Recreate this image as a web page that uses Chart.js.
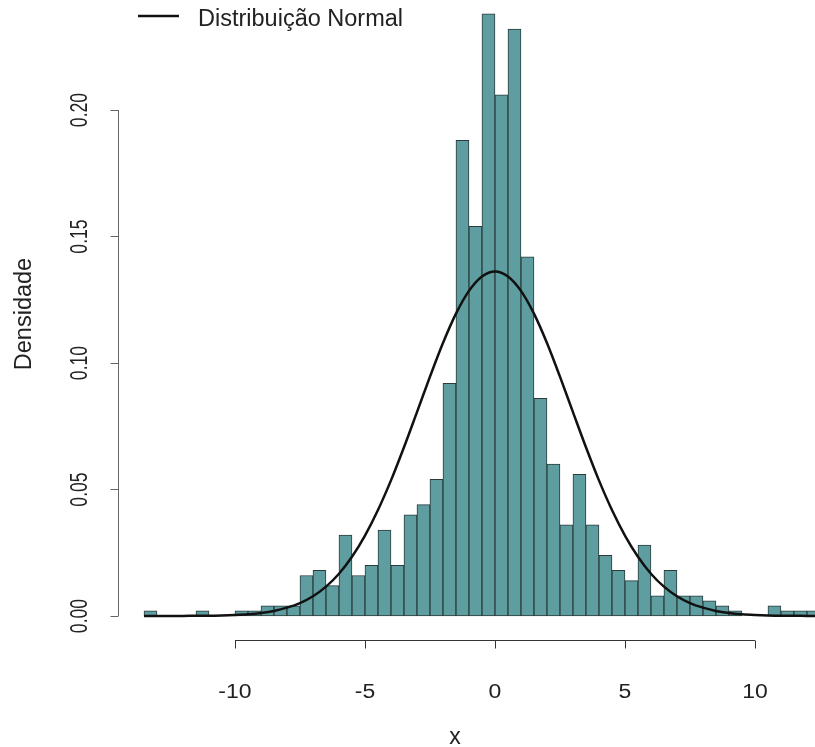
<!DOCTYPE html>
<html>
<head>
<meta charset="utf-8">
<script src="https://cdn.jsdelivr.net/npm/chart.js@4"></script>
<style>
  html, body { margin: 0; padding: 0; background: #fff; }
  #wrap { width: 815px; height: 747px; }
</style>
</head>
<body>
<div id="wrap"><canvas id="histChart" width="815" height="747"></canvas></div>
<script>
// bin left edges (width 0.5) and densities
const binStart = -13.5;
const binWidth = 0.5;
const densities = [
    0.002, 0, 0, 0, 0.002, 0, 0,           // -13.5 .. -10.5
    0.002, 0.002, 0.004, 0.004, 0.004,     // -10.0 .. -8.0
    0.016, 0.018, 0.012, 0.032, 0.016,     // -7.5 .. -5.5
    0.020, 0.034, 0.020, 0.040, 0.044,     // -5.0 .. -3.0
    0.054, 0.092, 0.188, 0.154, 0.238,     // -2.5 .. -0.5
    0.206, 0.232, 0.142, 0.086, 0.060,     //  0.0 .. 2.0
    0.036, 0.056, 0.036, 0.024, 0.018,     //  2.5 .. 4.5
    0.014, 0.028, 0.008, 0.018, 0.008,     //  5.0 .. 7.0
    0.008, 0.006, 0.004, 0.002, 0,         //  7.5 .. 9.5
    0, 0.004, 0.002, 0.002, 0.002          // 10.0 .. 12.0
];

// normal curve, read at every 0.5 from -13.5 to 12.5
const curveStart = -13.5;
const curveY = [
    0.0000, 0.0000, 0.0000, 0.0000, 0.0001, 0.0001, 0.0002,          // -13.5 .. -10.5
    0.0004, 0.0007, 0.0012, 0.0020, 0.0033, 0.0051, 0.0078, 0.0116, // -10.0 .. -6.5
    0.0167, 0.0234, 0.0318, 0.0419, 0.0536, 0.0667, 0.0806, 0.0946, //  -6.0 .. -2.5
    0.1079, 0.1195, 0.1285, 0.1342, 0.1362, 0.1342, 0.1285, 0.1195, //  -2.0 .. 1.5
    0.1079, 0.0946, 0.0806, 0.0667, 0.0536, 0.0419, 0.0318, 0.0234, //   2.0 .. 5.5
    0.0167, 0.0116, 0.0078, 0.0051, 0.0033, 0.0020, 0.0012, 0.0007, //   6.0 .. 9.5
    0.0004, 0.0002, 0.0001, 0.0001, 0.0000, 0.0000                  //  10.0 .. 12.5
];

const xTicks = [-10, -5, 0, 5, 10];
const yTicks = [0.00, 0.05, 0.10, 0.15, 0.20];
const legendLabel = "Distribuição Normal";
const xTitle = "x";
const yTitle = "Densidade";

const barPoints = densities.map((d, i) => ({ x: binStart + i * binWidth + binWidth / 2, y: d }));
const curvePoints = curveY.map((d, i) => ({ x: curveStart + i * 0.5, y: d }));

const FONT = "'Liberation Sans', Arial, sans-serif";

// text with separate scale along and across the writing direction
function drawText(ctx, text, x, y, size, along, across, angle) {
    ctx.save();
    ctx.translate(x, y);
    if (angle) ctx.rotate(angle);
    ctx.scale(along, across);
    ctx.font = size + "px " + FONT;
    ctx.fillText(text, 0, 0);
    ctx.restore();
}

// R-style axes: lines only across the tick range, outward ticks
const rAxes = {
    id: "rAxes",
    afterDraw(chart) {
        const ctx = chart.ctx;
        const xs = chart.scales.x;
        const ys = chart.scales.y;
        const area = chart.chartArea;
        ctx.save();
        ctx.strokeStyle = "#333";
        ctx.lineWidth = 1;
        ctx.fillStyle = "#222";

        // x axis
        const yLine = area.bottom + 0.5;
        ctx.beginPath();
        ctx.moveTo(xs.getPixelForValue(xTicks[0]), yLine);
        ctx.lineTo(xs.getPixelForValue(xTicks[xTicks.length - 1]), yLine);
        xTicks.forEach(t => {
            const px = Math.round(xs.getPixelForValue(t)) + 0.5;
            ctx.moveTo(px, yLine);
            ctx.lineTo(px, yLine + 8);
        });
        ctx.stroke();
        ctx.textAlign = "center";
        ctx.textBaseline = "alphabetic";
        xTicks.forEach(t => {
            drawText(ctx, String(t), xs.getPixelForValue(t), 698, 23, 1, 0.9, 0);
        });
        drawText(ctx, xTitle, 455, 744, 23, 1, 1, 0);

        // y axis
        ctx.strokeStyle = "#666";
        const xLine = area.left + 0.5;
        ctx.beginPath();
        ctx.moveTo(xLine, ys.getPixelForValue(yTicks[0]));
        ctx.lineTo(xLine, ys.getPixelForValue(yTicks[yTicks.length - 1]));
        yTicks.forEach(t => {
            const py = Math.round(ys.getPixelForValue(t)) + 0.5;
            ctx.moveTo(xLine, py);
            ctx.lineTo(xLine - 8, py);
        });
        ctx.stroke();
        yTicks.forEach(t => {
            drawText(ctx, t.toFixed(2), 87, ys.getPixelForValue(t), 23.5, 0.75, 1, -Math.PI / 2);
        });
        drawText(ctx, yTitle, 31, 314, 23.5, 1, 1, -Math.PI / 2);

        // legend (top left, partly cut like the original)
        ctx.strokeStyle = "#111";
        ctx.lineWidth = 2.5;
        ctx.beginPath();
        ctx.moveTo(138, 16);
        ctx.lineTo(179, 16);
        ctx.stroke();
        ctx.textAlign = "left";
        drawText(ctx, legendLabel, 198, 26, 23.5, 1, 1, 0);
        ctx.restore();
    }
};

const ctx = document.getElementById("histChart").getContext("2d");
new Chart(ctx, {
    type: "bar",
    data: {
        datasets: [
            {
                type: "line",
                label: legendLabel,
                data: curvePoints,
                borderColor: "#111",
                borderWidth: 2.5,
                pointRadius: 0,
                fill: false,
                cubicInterpolationMode: "monotone",
                order: 0
            },
            {
                label: "hist",
                data: barPoints,
                backgroundColor: "#5F9EA0",
                borderColor: "#2b3b3b",
                borderWidth: 1,
                borderSkipped: false,
                barPercentage: 1,
                categoryPercentage: 1,
                order: 1
            }
        ]
    },
    options: {
        responsive: false,
        animation: false,
        layout: { padding: { left: 118, right: 0, top: 0, bottom: 107 } },
        scales: {
            x: { type: "linear", min: -14.5, max: 12.31, offset: false, display: false },
            y: { type: "linear", min: -0.00949, max: 0.24348, display: false }
        },
        plugins: {
            legend: { display: false },
            tooltip: { enabled: false }
        }
    },
    plugins: [rAxes]
});
</script>
</body>
</html>
